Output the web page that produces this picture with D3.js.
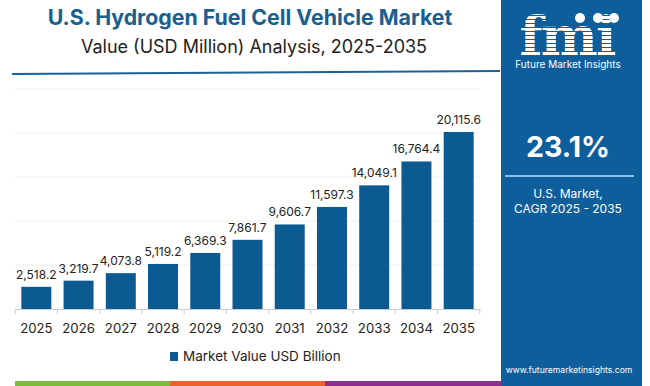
<!DOCTYPE html>
<html>
<head>
<meta charset="utf-8">
<script src="https://cdn.jsdelivr.net/npm/d3@7"></script>
<style>
  body { margin: 0; background: #fff; }
  svg { display: block; font-family: Inter, "Noto Sans", sans-serif; }
</style>
</head>
<body>
<svg id="chart" width="650" height="386"></svg>
<script>
// chart data
var years = ["2025", "2026", "2027", "2028", "2029", "2030", "2031", "2032", "2033", "2034", "2035"];
var values = [2518.2, 3219.7, 4073.8, 5119.2, 6369.3, 7861.7, 9606.7, 11597.3, 14049.1, 16764.4, 20115.6];
var gridTicks = [0, 5000, 10000, 15000, 20000, 25000];
var seriesName = "Market Value USD Billion";
var cagr = "23.1%";

var svg = d3.select("#chart"),
    barColor = "#0b5a91",
    panelColor = "#0e5e9b";

// title block
svg.append("text").attr("x", 250).attr("y", 25).attr("text-anchor", "middle")
    .attr("font-size", 21.3).attr("font-weight", 700).attr("fill", "#17608f")
    .text("U.S. Hydrogen Fuel Cell Vehicle Market");
svg.append("text").attr("x", 254).attr("y", 53).attr("text-anchor", "middle")
    .attr("font-size", 18).attr("fill", "#222")
    .text("Value (USD Million) Analysis, 2025-2035");
svg.append("line").attr("x1", 12).attr("y1", 74).attr("x2", 500).attr("y2", 71)
    .attr("stroke", "#1d6296").attr("stroke-width", 2);

// scales
var x = d3.scaleBand().domain(years).range([15, 480]).paddingInner(0.29).paddingOuter(0.15);
var y = d3.scaleLinear().domain([0, 25000]).range([309, 89]);

// grid
svg.append("g").selectAll("line").data(gridTicks.slice(1)).join("line")
    .attr("x1", 15).attr("x2", 480)
    .attr("y1", function (d) { return y(d); }).attr("y2", function (d) { return y(d); })
    .attr("stroke", "#eeeeee").attr("stroke-width", 1);

// bars
svg.append("g").selectAll("rect").data(values).join("rect")
    .attr("x", function (d, i) { return x(years[i]); })
    .attr("y", function (d) { return y(d); })
    .attr("width", x.bandwidth())
    .attr("height", function (d) { return y(0) - y(d); })
    .attr("fill", barColor);

// value labels
svg.append("g").selectAll("text").data(values).join("text")
    .attr("x", function (d, i) { return x(years[i]) + x.bandwidth() / 2; })
    .attr("y", function (d) { return y(d) - 8; })
    .attr("text-anchor", "middle").attr("font-size", 12).attr("fill", "#222")
    .text(function (d) { return d3.format(",.1f")(d); });

// x axis
var axis = svg.append("g").attr("transform", "translate(0," + y(0) + ")")
    .call(d3.axisBottom(x).tickSize(0).tickPadding(15));
axis.select(".domain").attr("stroke", "#cccccc");
axis.selectAll("text").attr("font-size", 13.2).attr("fill", "#222").attr("font-family", "Inter, sans-serif");
// small separators between the bands
var step = x.step();
svg.append("g").selectAll("line").data(d3.range(years.length + 1)).join("line")
    .attr("x1", function (i) { return x(years[0]) - x.paddingInner() * step / 2 + i * step; })
    .attr("x2", function (i) { return x(years[0]) - x.paddingInner() * step / 2 + i * step; })
    .attr("y1", y(0)).attr("y2", y(0) + 5)
    .attr("stroke", "#cccccc");

// legend
svg.append("rect").attr("x", 170).attr("y", 352).attr("width", 8).attr("height", 9).attr("fill", barColor);
svg.append("text").attr("x", 183).attr("y", 361).attr("font-size", 13.5).attr("fill", "#222").text(seriesName);

// bottom colour strip
var strip = [["#7cbd3c", 15, 170], ["#e8642c", 170, 325], ["#8e2f8f", 325, 501]];
svg.append("g").selectAll("rect").data(strip).join("rect")
    .attr("x", function (d) { return d[1]; }).attr("y", 381)
    .attr("width", function (d) { return d[2] - d[1]; }).attr("height", 5)
    .attr("fill", function (d) { return d[0]; });

// right panel
var panel = svg.append("g");
panel.append("rect").attr("x", 501).attr("y", 0).attr("width", 141).attr("height", 386).attr("fill", panelColor);

// striped fmi logo: letter shapes used as a clip for white stripes
var defs = svg.append("defs");
defs.append("clipPath").attr("id", "fmiClip")
  .append("text").attr("x", 567).attr("y", 55).attr("text-anchor", "middle")
    .attr("font-family", "'DejaVu Serif', serif").attr("font-weight", 700).attr("font-size", 54)
    .attr("letter-spacing", -2).text("fmi");
panel.append("g").attr("clip-path", "url(#fmiClip)")
  .selectAll("rect").data(d3.range(12, 58, 4)).join("rect")
    .attr("x", 510).attr("width", 120)
    .attr("y", function (d) { return d; }).attr("height", 3)
    .attr("fill", "#ffffff");
[[580, 18], [598, 18], [614, 18]].forEach(function (c) {
    panel.append("circle").attr("cx", c[0]).attr("cy", c[1]).attr("r", 5).attr("fill", "#ffffff");
});
panel.append("text").attr("x", 568).attr("y", 68).attr("text-anchor", "middle")
    .attr("font-size", 10).attr("fill", "#ffffff").text("Future Market Insights");

panel.append("text").attr("x", 568).attr("y", 157).attr("text-anchor", "middle")
    .attr("font-size", 28.5).attr("font-weight", 700).attr("fill", "#ffffff").text(cagr);
panel.append("line").attr("x1", 505).attr("x2", 634).attr("y1", 176).attr("y2", 176)
    .attr("stroke", "#8dbde3").attr("stroke-width", 2);
panel.append("text").attr("x", 568).attr("y", 198).attr("text-anchor", "middle")
    .attr("font-size", 12).attr("fill", "#ffffff").text("U.S. Market,");
panel.append("text").attr("x", 568).attr("y", 213).attr("text-anchor", "middle")
    .attr("font-size", 12).attr("fill", "#ffffff").text("CAGR 2025 - 2035");
panel.append("text").attr("x", 569).attr("y", 373).attr("text-anchor", "middle")
    .attr("font-size", 8.6).attr("fill", "#ffffff").text("www.futuremarketinsights.com");
</script>
</body>
</html>
